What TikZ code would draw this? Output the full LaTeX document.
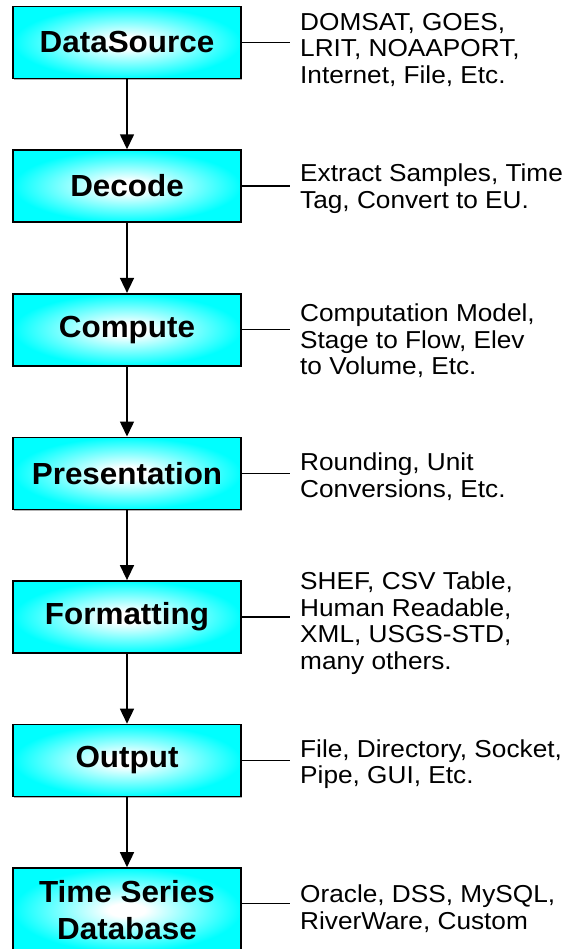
\documentclass[tikz,border=0pt]{standalone}
\usepackage{fontspec}
\setmainfont{Liberation Sans}
\newfontfamily\boxfont{Liberation Sans}[FakeStretch=1.03]
\newfontfamily\descfont{Liberation Sans}[FakeStretch=1.07]
\usetikzlibrary{arrows.meta,shadows}
\pgfdeclareradialshading{boxglow}{\pgfpoint{0bp}{0bp}}{color(0bp)=(white);color(4bp)=(white);color(25bp)=(cyan);color(50bp)=(cyan)}
\begin{document}
\begin{tikzpicture}[x=1pt,y=-1pt,
  stage/.style={draw=black, line width=1.6pt, shading=boxglow,
    minimum width=228pt, minimum height=72pt, inner sep=0pt,
    font=\boxfont\fontsize{30.5}{37}\selectfont\bfseries, align=center,
    drop shadow={shadow xshift=1.2pt, shadow yshift=-1.2pt, fill=gray!60, opacity=1}},
  desc/.style={anchor=west, inner sep=0pt, align=left,
    font=\descfont\fontsize{24.5}{26.5}\selectfont},
  flow/.style={line width=1.5pt, -{Triangle[length=15pt,width=14pt]}},
  tie/.style={line width=1.4pt, shorten >=10pt}]
\useasboundingbox (0,0) rectangle (577,949);

\node[stage] (s1) at (127,42.5) {DataSource};
\node[stage] (s2) at (127,186.1) {Decode};
\node[stage] (s3) at (127,329.7) {Compute};
\node[stage] (s4) at (127,473.3) {Presentation};
\node[stage] (s5) at (127,616.9) {Formatting};
\node[stage] (s6) at (127,760.5) {Output};
\node[stage, minimum height=84pt] (s7) at (127,910) {Time Series\\Database};

\node[desc] (d1) at (300,50) {DOMSAT, GOES,\\LRIT, NOAAPORT,\\Internet, File, Etc.};
\node[desc] (d2) at (300,188.5) {Extract Samples, Time\\Tag, Convert to EU.};
\node[desc] (d3) at (300,341) {Computation Model,\\Stage to Flow, Elev\\to Volume, Etc.};
\node[desc] (d4) at (300,476.5) {Rounding, Unit\\Conversions, Etc.};
\node[desc] (d5) at (300,623) {SHEF, CSV Table,\\Human Readable,\\XML, USGS-STD,\\many others.};
\node[desc] (d6) at (300,764) {File, Directory, Socket,\\Pipe, GUI, Etc.};
\node[desc] (d7) at (300,908.5) {Oracle, DSS, MySQL,\\RiverWare, Custom};

\draw[flow] (s1.south) -- (s2.north);
\draw[flow] (s2.south) -- (s3.north);
\draw[flow] (s3.south) -- (s4.north);
\draw[flow] (s4.south) -- (s5.north);
\draw[flow] (s5.south) -- (s6.north);
\draw[flow] (s6.south) -- (s7.north);

\coordinate (c7) at ([yshift=-36pt]s7.north east);
\draw[tie] (s1.east) -- (s1.east -| d1.west);
\draw[tie] (s2.east) -- (s2.east -| d2.west);
\draw[tie] (s3.east) -- (s3.east -| d3.west);
\draw[tie] (s4.east) -- (s4.east -| d4.west);
\draw[tie] (s5.east) -- (s5.east -| d5.west);
\draw[tie] (s6.east) -- (s6.east -| d6.west);
\draw[tie] (c7) -- (c7 -| d7.west);
\end{tikzpicture}
\end{document}
